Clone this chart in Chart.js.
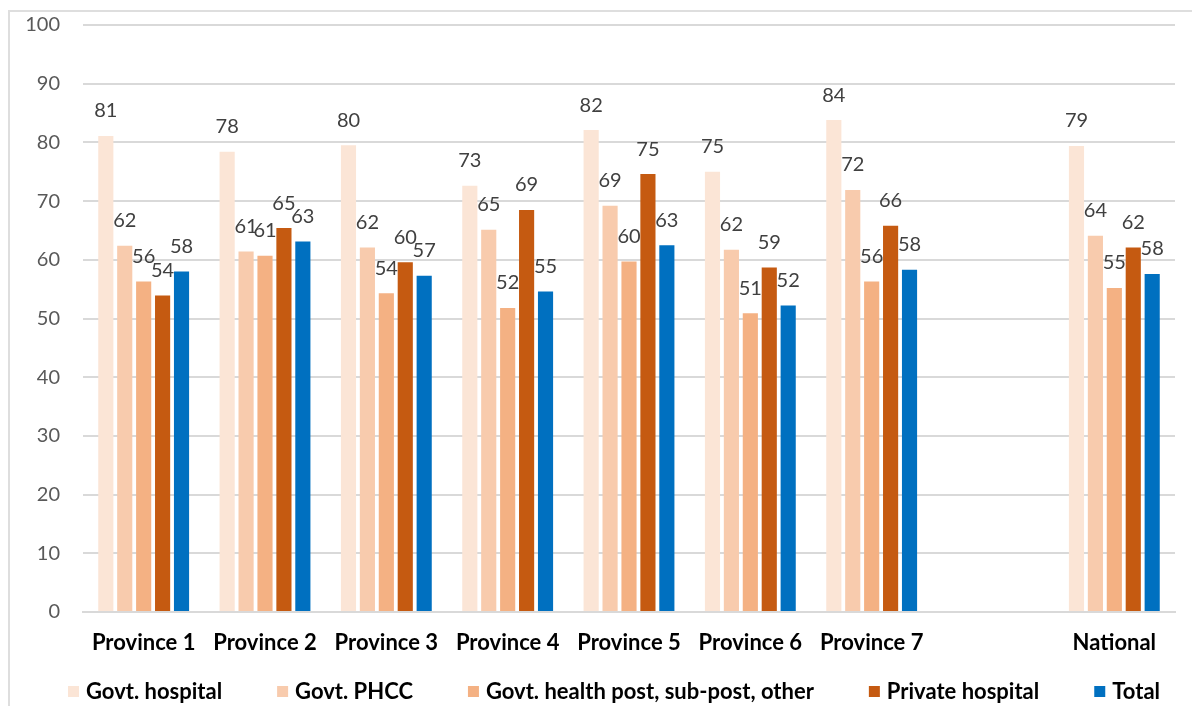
<!DOCTYPE html>
<html>
<head>
<meta charset="utf-8">
<script src="https://cdn.jsdelivr.net/npm/chart.js@4.4.1/dist/chart.umd.min.js"></script>
<style>
  html, body { margin: 0; padding: 0; background: #ffffff; overflow: hidden; }
  #wrap { position: relative; width: 1192px; height: 706px; }
  #frame { position: absolute; left: 8px; top: 10px; width: 1200px; height: 720px;
           border: 2px solid #dedede; box-sizing: border-box; }
  #chart { position: absolute; left: 0; top: 0; }
</style>
</head>
<body>
<div id="wrap">
  <div id="frame"></div>
  <canvas id="chart" width="1192" height="706"></canvas>
</div>
<script>
// Categories along the x axis (the blank entry leaves a gap before "National")
const categories = ['Province 1', 'Province 2', 'Province 3', 'Province 4', 'Province 5',
                    'Province 6', 'Province 7', '', 'National'];

// Percentages per facility type
const govtHospital    = [81.1, 78.4, 79.5, 72.6, 82.1, 75.0, 83.8, null, 79.4];
const govtPHCC        = [62.4, 61.4, 62.1, 65.1, 69.2, 61.7, 71.9, null, 64.1];
const govtHealthPost  = [56.3, 60.7, 54.3, 51.8, 59.7, 50.9, 56.3, null, 55.2];
const privateHospital = [53.9, 65.4, 59.6, 68.5, 74.6, 58.7, 65.8, null, 62.1];
const total           = [58.0, 63.1, 57.3, 54.6, 62.5, 52.2, 58.3, null, 57.6];

const seriesNames = ['Govt. hospital', 'Govt. PHCC', 'Govt. health post, sub-post, other',
                     'Private hospital', 'Total'];
const seriesColors = ['#FBE5D6', '#F8CBAD', '#F4B183', '#C55A11', '#0070C0'];

// Value axis
const yMin = 0, yMax = 100, yStep = 10;

const FONT = 'Lato, "Noto Sans", sans-serif';

// Rounded value printed above each bar
const valueLabels = {
  id: 'valueLabels',
  afterDatasetsDraw(chart) {
    const ctx = chart.ctx;
    ctx.save();
    ctx.font = '20px ' + FONT;
    ctx.fillStyle = '#404040';
    ctx.textAlign = 'center';
    ctx.textBaseline = 'middle';
    chart.data.datasets.forEach((ds, i) => {
      const meta = chart.getDatasetMeta(i);
      meta.data.forEach((bar, j) => {
        const v = ds.data[j];
        if (v === null || v === undefined) return;
        ctx.fillText(String(Math.round(v)), bar.x, bar.y - 25);
      });
    });
    ctx.restore();
  }
};

// Single-row legend with wide, even spacing between entries
const rowLegend = {
  id: 'rowLegend',
  afterDraw(chart, args, opts) {
    const ctx = chart.ctx;
    ctx.save();
    ctx.font = 'bold 22px ' + FONT;
    ctx.textBaseline = 'middle';
    ctx.textAlign = 'left';
    let x = opts.startX;
    const y = opts.y;
    chart.data.datasets.forEach(ds => {
      ctx.fillStyle = ds.backgroundColor;
      ctx.fillRect(x, y - 6, 11, 11);
      x += 11 + opts.boxGap;
      ctx.fillStyle = '#000000';
      ctx.fillText(ds.label, x, y);
      x += ctx.measureText(ds.label).width + opts.itemGap;
    });
    ctx.restore();
  }
};

const seriesData = [govtHospital, govtPHCC, govtHealthPost, privateHospital, total];

new Chart(document.getElementById('chart'), {
  type: 'bar',
  data: {
    labels: categories,
    datasets: seriesData.map((d, i) => ({
      label: seriesNames[i],
      data: d,
      backgroundColor: seriesColors[i],
      borderWidth: 0,
      categoryPercentage: 0.78,
      barPercentage: 0.8
    }))
  },
  options: {
    responsive: false,
    animation: false,
    events: [],
    layout: { padding: { top: 25, right: 17, left: 0, bottom: 44 } },
    scales: {
      x: {
        grid: { display: false, drawTicks: false },
        border: { display: true, color: '#d9d9d9', width: 2 },
        ticks: { color: '#000000', font: { family: FONT, size: 22, weight: 'bold' }, padding: 18,
                 maxRotation: 0, autoSkip: false },
        afterFit(scale) { scale.height = 50; }
      },
      y: {
        min: yMin, max: yMax,
        ticks: { stepSize: yStep, color: '#595959', font: { family: FONT, size: 20 }, padding: 23 },
        grid: { color: '#d9d9d9', lineWidth: 2, drawTicks: false },
        border: { display: false },
        afterFit(scale) {
          scale.width = 83;
          // the horizontal tick gap should not also push the plot down
          scale.paddingTop = 12;
          scale.paddingBottom = 12;
        }
      }
    },
    plugins: {
      tooltip: { enabled: false },
      legend: { display: false },
      rowLegend: { startX: 68, y: 692, boxGap: 7, itemGap: 55 }
    }
  },
  plugins: [valueLabels, rowLegend]
});
</script>
</body>
</html>
